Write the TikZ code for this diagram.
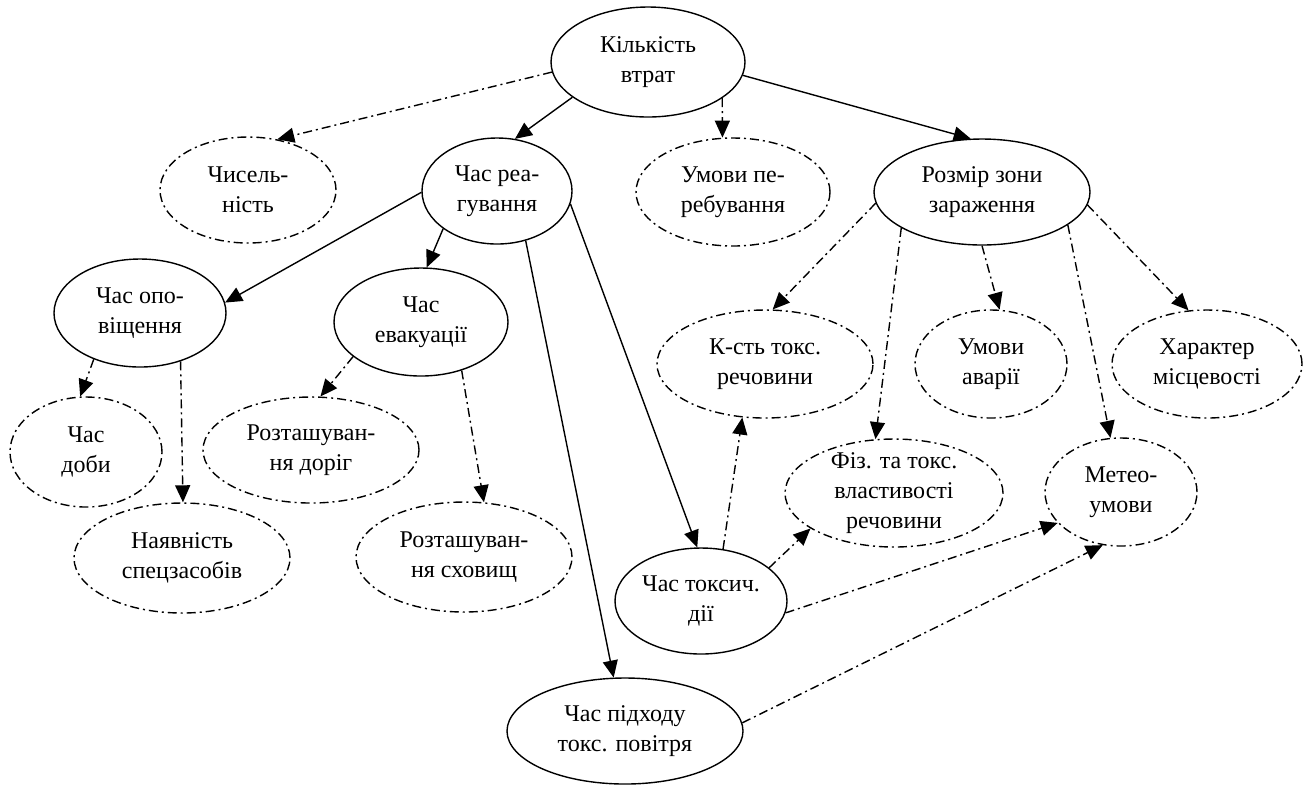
\documentclass[tikz,border=0pt]{standalone}
\usepackage{fontspec}
\setmainfont{Liberation Serif}
\usetikzlibrary{shapes.geometric,arrows.meta}
\tikzset{
  ell/.style={ellipse, draw, line width=0.7pt, inner sep=0pt, align=center,
    font=\fontsize{12}{15}\selectfont},
  dashell/.style={ell, dash pattern=on 4.5pt off 2pt on 1pt off 2pt},
  arr/.style={line width=0.7pt, -{Triangle[length=8.5pt,width=7.5pt]}},
  darr/.style={arr, dash pattern=on 4.5pt off 2pt on 1pt off 2pt},
}
\begin{document}
\begin{tikzpicture}[x=0.5pt,y=-0.5pt]
\fill[white] (0,0) rectangle (1304,784);
\useasboundingbox (0,0) rectangle (1304,784);
% nodes
\node[ell,minimum width=97pt,minimum height=55pt] (kil) at (648,62) {Кількість\\втрат};
\node[dashell,minimum width=88pt,minimum height=53pt] (chys) at (248,190) {Чисель-\\ність};
\node[ell,minimum width=75pt,minimum height=53pt] (reag) at (497,191) {Час реа-\\гування};
\node[dashell,minimum width=97pt,minimum height=54pt] (umper) at (733,192) {Умови пе-\\ребування};
\node[ell,minimum width=108pt,minimum height=53pt] (rozm) at (982,192) {Розмір зони\\зараження};
\node[ell,minimum width=86pt,minimum height=54pt] (opov) at (140,313) {Час опо-\\віщення};
\node[ell,minimum width=87pt,minimum height=54pt] (evak) at (421,322) {Час\\евакуації};
\node[dashell,minimum width=76pt,minimum height=55pt] (doby) at (86,452) {Час\\доби};
\node[dashell,minimum width=108pt,minimum height=53pt] (dorig) at (311,450) {Розташуван-\\ня доріг};
\node[dashell,minimum width=108pt,minimum height=55pt] (nayav) at (182,558) {Наявність\\спецзасобів};
\node[dashell,minimum width=108pt,minimum height=55pt] (skhov) at (464,557) {Розташуван-\\ня сховищ};
\node[dashell,minimum width=108pt,minimum height=54pt] (kst) at (765,364) {К-сть токс.\\речовини};
\node[dashell,minimum width=76pt,minimum height=54pt] (avar) at (991,364) {Умови\\аварії};
\node[dashell,minimum width=95pt,minimum height=54pt] (khar) at (1207,364) {Характер\\місцевості};
\node[dashell,minimum width=109pt,minimum height=54pt,inner ysep=-12pt] (fiz) at (894,493) {Фіз. та токс.\\властивості\\речовини};
\node[dashell,minimum width=76pt,minimum height=54pt] (meteo) at (1121,492) {Метео-\\умови};
\node[ell,minimum width=86pt,minimum height=53pt] (toks) at (701,601) {Час токсич.\\дії};
\node[ell,minimum width=118pt,minimum height=53pt] (pidh) at (625,731) {Час підходу\\токс. повітря};
% edges
\draw[darr] (kil.186) -- (chys.60.5);
\draw[arr] (kil.205) -- (reag.71);
\draw[darr] (kil.334.5) -- (umper.101.5);
\draw[arr] (kil.352) -- (rozm.102);
\draw[arr] (reag.181.5) -- (opov.7);
\draw[arr] (reag.215.7) -- (evak.84);
\draw[arr] (reag.300.5) -- (pidh.102.5);
\draw[arr] (reag.350.5) -- (toks.94);
\draw[darr] (opov.225) -- (doby.96);
\draw[darr] (opov.310.7) -- (nayav.89);
\draw[darr] (evak.207.6) -- (dorig.80.7);
\draw[darr] (evak.310.5) -- (skhov.70.6);
\draw[darr] (rozm.186.7) -- (kst.82.6);
\draw[darr] (rozm.204.2) -- (fiz.109);
\draw[darr] (rozm.270) -- (avar.81);
\draw[darr] (rozm.339) -- (meteo.101.3);
\draw[darr] (rozm.353) -- (khar.109);
\draw[darr] (toks.67.5) -- (kst.247.7);
\draw[darr] (toks.26.2) -- (fiz.203.7);
\draw[darr] (toks.352.7) -- (meteo.206.2);
\draw[darr] (pidh.4.4) -- (meteo.251.6);
\end{tikzpicture}
\end{document}
